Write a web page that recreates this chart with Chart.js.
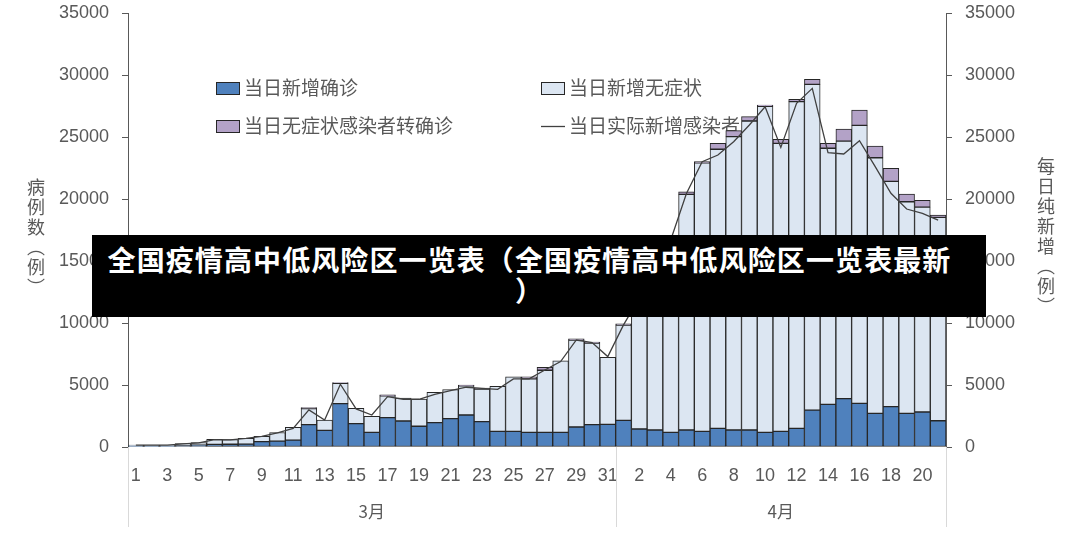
<!DOCTYPE html>
<html>
<head>
<meta charset="utf-8">
<script src="https://cdn.jsdelivr.net/npm/chart.js@4/dist/chart.umd.min.js"></script>
<style>
    html, body { margin: 0; padding: 0; background: #fff; }
    #wrap { position: relative; width: 1080px; height: 553px; }
    .ytitle {
        position: absolute;
        writing-mode: vertical-rl;
        text-orientation: upright;
        font-family: 'Noto Sans CJK SC', sans-serif;
        font-size: 18px;
        color: #595959;
        letter-spacing: 2px;
    }
    #banner {
        position: absolute;
        left: 92px; top: 235px;
        width: 894px; height: 82px;
        box-sizing: border-box;
        padding: 9px 29px 0 10px;
        background: #000;
        color: #fff;
        font: bold 28px/31px 'Noto Sans CJK SC', sans-serif;
        letter-spacing: 1.1px;
        text-align: center;
        line-break: anywhere;
    }
</style>
</head>
<body>
<div id="wrap">
    <canvas id="covidChart"></canvas>
    <div class="ytitle" style="left:23px; top:178px;">病例数（例）</div>
    <div class="ytitle" style="left:1033px; top:157px;">每日纯新增（例）</div>
    <div id="banner">全国疫情高中低风险区一览表（全国疫情高中低风险区一览表最新）</div>
</div>
<script>
// ngày: 3月1日 - 4月21日
const dayLabels = [
    '1','2','3','4','5','6','7','8','9','10','11','12','13','14','15','16',
    '17','18','19','20','21','22','23','24','25','26','27','28','29','30','31',
    '1','2','3','4','5','6','7','8','9','10','11','12','13','14','15','16',
    '17','18','19','20','21'
];
const monthNames = ['3月', '4月'];
const monthDays = [31, 21];

const confirmed = [
    90, 95, 90, 120, 150, 215, 220, 230, 430, 480, 560, 1800, 1345, 3500, 1880, 1180,
    2370, 2100, 1670, 1960, 2290, 2580, 2040, 1260, 1260, 1180, 1180, 1180, 1610, 1800, 1820,
    2150, 1450, 1370, 1180, 1370, 1260, 1500, 1370, 1370, 1180, 1260, 1500, 2980, 3440, 3900, 3520,
    2710, 3250, 2710, 2820, 2120
];
const asymptomatic = [
    70, 65, 70, 150, 200, 405, 370, 470, 440, 690, 1020, 1290, 835, 1640, 1240, 1300,
    1750, 1850, 2200, 2450, 2340, 2360, 2640, 3640, 4390, 4320, 5010, 5760, 7010, 6590, 5420,
    7680, 10800, 11980, 15470, 19000, 21650, 22510, 23660, 24920, 26300, 23230, 26350, 26270, 20650, 20770, 22420,
    20620, 18170, 17070, 16530, 16400
];
const converted = [
    0, 0, 0, 0, 0, 0, 0, 0, 0, 0, 0, 80, 0, 50, 0, 0,
    80, 0, 0, 0, 0, 60, 80, 0, 0, 150, 240, 0, 100, 80, 0,
    100, 150, 150, 150, 215, 100, 480, 480, 350, 100, 320, 190, 400, 400, 970, 1240,
    940, 1050, 620, 540, 190
];
const actualNew = [
    150, 150, 150, 260, 340, 600, 580, 690, 860, 1130, 1500, 2990, 2180, 5060, 3070, 2580,
    4060, 3850, 3850, 4250, 4550, 4820, 4730, 4650, 5490, 5490, 6210, 6890, 8630, 8420, 7290,
    9850, 12000, 13200, 16700, 20450, 23010, 23550, 24620, 25970, 27440, 24160, 27710, 28920, 23730, 23630, 24700,
    22610, 20460, 19190, 18840, 18300
];
const axisMax = 35000;
const axisStep = 5000;

const textColor = '#595959';
const numFont = { family: 'Liberation Sans', size: 18 };

// legend vẽ trước bars, để cột che lên chữ như hình gốc
const legendPlugin = {
    id: 'gridLegend',
    beforeDatasetsDraw(chart) {
        const c = chart.ctx;
        const spots = [[216, 88], [541, 88], [216, 126], [541, 126]];
        c.save();
        c.font = "19px 'Noto Sans CJK SC'";
        c.textBaseline = 'middle';
        chart.data.datasets.forEach((ds, i) => {
            const [x, y] = spots[i];
            if (ds.type === 'line') {
                c.strokeStyle = ds.borderColor;
                c.lineWidth = 1.3;
                c.beginPath();
                c.moveTo(x, y + 0.5);
                c.lineTo(x + 24, y + 0.5);
                c.stroke();
            } else {
                c.fillStyle = ds.backgroundColor;
                c.fillRect(x, y - 6, 24, 13);
                c.strokeStyle = ds.borderColor;
                c.lineWidth = 1;
                c.strokeRect(x + 0.5, y - 5.5, 23, 12);
            }
            c.fillStyle = textColor;
            c.fillText(ds.label, x + 28, y);
        });
        c.restore();
    }
};

// nhóm tháng dưới trục x
const monthPlugin = {
    id: 'monthGroups',
    afterDraw(chart) {
        const xs = chart.scales.x;
        const c = chart.ctx;
        const bottom = chart.chartArea.bottom;
        let start = 0;
        const edges = [xs.left];
        monthDays.forEach(n => {
            const end = start + n - 1;
            const right = end < dayLabels.length - 1
                ? (xs.getPixelForValue(end) + xs.getPixelForValue(end + 1)) / 2
                : xs.right;
            edges.push(right);
            start += n;
        });
        c.save();
        c.strokeStyle = '#d9d9d9';
        c.lineWidth = 1;
        edges.forEach(x => {
            c.beginPath();
            c.moveTo(Math.round(x) + 0.5, bottom);
            c.lineTo(Math.round(x) + 0.5, bottom + 80);
            c.stroke();
        });
        c.fillStyle = textColor;
        c.font = "17px 'Noto Sans CJK SC'";
        c.textAlign = 'center';
        c.textBaseline = 'middle';
        monthNames.forEach((name, m) => {
            c.fillText(name, (edges[m] + edges[m + 1]) / 2, bottom + 65);
        });
        c.restore();
    }
};

function yAxis(position, width) {
    return {
        type: 'linear',
        position: position,
        min: 0,
        max: axisMax,
        stacked: position === 'left',
        ticks: { stepSize: axisStep, color: textColor, font: numFont, padding: 13, callback: v => String(v) },
        grid: { drawOnChartArea: false, drawTicks: true, tickLength: 6, color: textColor },
        border: { display: true, color: textColor, width: 1 },
        afterFit: s => {
            s.width = width;
            s.paddingTop = 0;
            s.paddingBottom = 0;
        }
    };
}

const barStyle = { borderColor: '#262626', borderWidth: 1, borderSkipped: false, order: 1, yAxisID: 'y' };

new Chart(document.getElementById('covidChart'), {
    type: 'bar',
    data: {
        labels: dayLabels,
        datasets: [
            Object.assign({ label: '当日新增确诊', data: confirmed, backgroundColor: '#4F81BD' }, barStyle),
            Object.assign({ label: '当日新增无症状', data: asymptomatic, backgroundColor: '#DCE6F2' }, barStyle),
            Object.assign({ label: '当日无症状感染者转确诊', data: converted, backgroundColor: '#B3A2C7' }, barStyle),
            {
                type: 'line',
                label: '当日实际新增感染者',
                data: actualNew,
                borderColor: '#404040',
                borderWidth: 1.3,
                pointRadius: 0,
                tension: 0,
                order: 0,
                yAxisID: 'y2'
            }
        ]
    },
    options: {
        responsive: true,
        maintainAspectRatio: false,
        animation: false,
        layout: { padding: { top: 13, left: 0, right: 0, bottom: 0 } },
        datasets: { bar: { categoryPercentage: 1, barPercentage: 1 } },
        plugins: { legend: { display: false }, tooltip: { enabled: false } },
        scales: {
            x: {
                stacked: true,
                offset: true,
                grid: { display: false },
                border: { display: false },
                ticks: {
                    color: textColor,
                    font: numFont,
                    maxRotation: 0,
                    autoSkip: false,
                    padding: 10,
                    callback: (v, i) => (i % 2 === 0 ? dayLabels[i] : '')
                },
                afterFit: s => { s.height = 106; }
            },
            y: yAxis('left', 128),
            y2: yAxis('right', 134)
        }
    },
    plugins: [legendPlugin, monthPlugin]
});
</script>
</body>
</html>
